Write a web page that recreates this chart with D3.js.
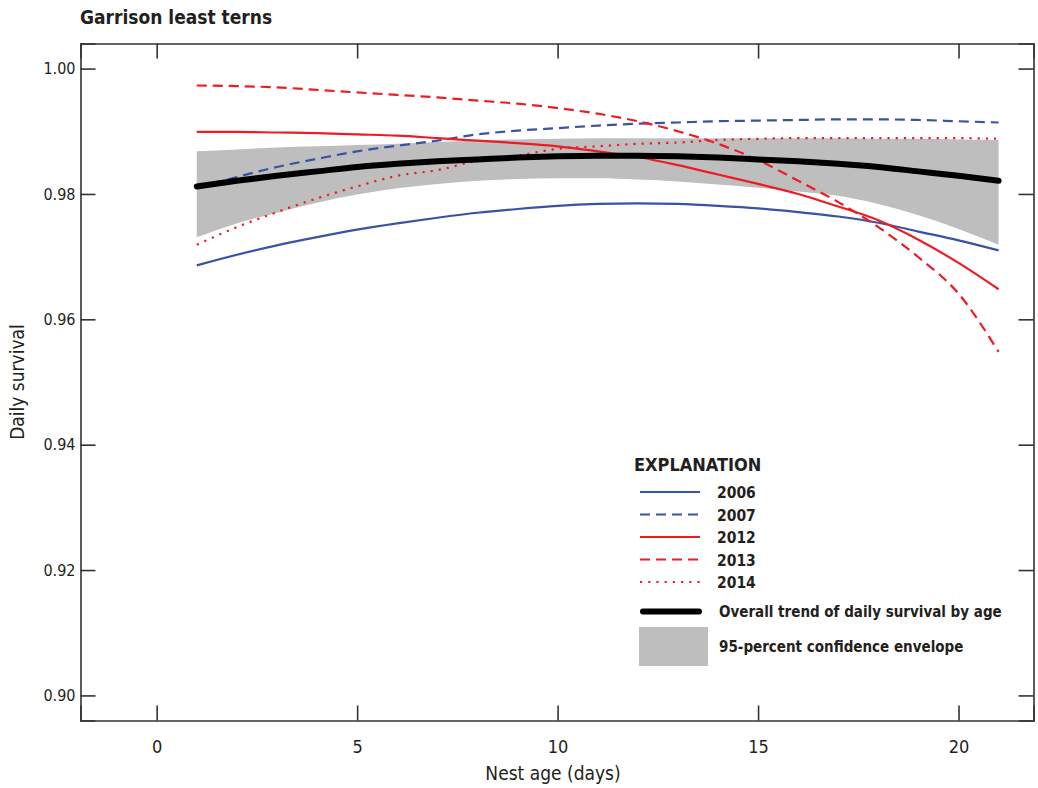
<!DOCTYPE html>
<html>
<head>
<meta charset="utf-8">
<script src="https://cdn.jsdelivr.net/npm/d3@7"></script>
<style>
  body { margin: 0; background: #fff; }
  svg text { font-family: 'Liberation Sans Narrow', 'Arial Narrow', 'DejaVu Sans Condensed', sans-serif; fill: #231f20; }
</style>
</head>
<body>
<svg id="chart" width="1038" height="788"></svg>
<script>
// ---- data ----
const ages = [1,2,3,4,5,6,7,8,9,10,11,12,13,14,15,16,17,18,19,20,21];
const s2006 = [0.9686,0.9703,0.9718,0.9731,0.9743,0.9753,0.9762,0.9770,0.9776,0.9781,0.9784,0.9785,0.9784,0.9781,0.9777,0.9771,0.9764,0.9754,0.9740,0.9726,0.9710];
const s2007 = [0.9809,0.9827,0.9843,0.9856,0.9868,0.9877,0.9885,0.9895,0.9901,0.9905,0.9909,0.9912,0.9914,0.9916,0.9917,0.9918,0.9919,0.9919,0.9918,0.9916,0.9914];
const s2012 = [0.9899,0.9899,0.9898,0.9897,0.9895,0.9893,0.9889,0.9885,0.9881,0.9876,0.9868,0.9859,0.9846,0.9831,0.9816,0.9800,0.9780,0.9758,0.9727,0.9690,0.9648];
const s2013 = [0.9973,0.9972,0.9970,0.9966,0.9962,0.9958,0.9954,0.9949,0.9944,0.9937,0.9928,0.9916,0.9900,0.9880,0.9854,0.9821,0.9787,0.9747,0.9699,0.9641,0.9548];
const s2014 = [0.9719,0.9747,0.9771,0.9793,0.9812,0.9829,0.9838,0.9853,0.9861,0.9872,0.9876,0.9880,0.9882,0.9886,0.9888,0.9889,0.9889,0.9889,0.9889,0.9889,0.9888];
const overall = [0.9812,0.9821,0.9829,0.9836,0.9843,0.9848,0.9852,0.9855,0.9858,0.9860,0.9861,0.9861,0.9860,0.9858,0.9855,0.9852,0.9848,0.9843,0.9836,0.9829,0.9821];
const ciUpper = [0.9868,0.9871,0.9874,0.9876,0.9878,0.9880,0.9883,0.9885,0.9887,0.9888,0.9889,0.9889,0.9889,0.9889,0.9889,0.9889,0.9889,0.9888,0.9888,0.9887,0.9886];
const ciLower = [0.9731,0.9753,0.9770,0.9786,0.9799,0.9809,0.9816,0.9821,0.9824,0.9825,0.9825,0.9823,0.9820,0.9815,0.9810,0.9804,0.9797,0.9784,0.9766,0.9744,0.9719];
const xTicks = [0,5,10,15,20];
const yTicks = [0.90,0.92,0.94,0.96,0.98,1.00];
const seriesNames = ["2006","2007","2012","2013","2014"];
const seriesValues = [s2006, s2007, s2012, s2013, s2014];

// ---- styles ----
const BLUE = "#3953a4", RED = "#ed1c24";
const seriesStyle = {
  "2006": {color: BLUE, dash: null},
  "2007": {color: BLUE, dash: "10,6"},
  "2012": {color: RED, dash: null},
  "2013": {color: RED, dash: "10,6"},
  "2014": {color: RED, dash: "2.2,6"}
};

const svg = d3.select("#chart");
const L = 80.5, R = 1033.5, T = 43.5, B = 720.5;
const x = d3.scaleLinear().domain([-1.9, 21.87]).range([L, R]);
const y = d3.scaleLinear().domain([0.896, 1.004]).range([B, T]);

// title
svg.append("text").attr("x", 80).attr("y", 24)
  .style("font-size", "19px").style("font-weight", "bold")
  .text("Garrison least terns");

// envelope
const area = d3.area().x((d,i) => x(ages[i])).y0((d,i) => y(ciLower[i])).y1((d,i) => y(ciUpper[i])).curve(d3.curveMonotoneX);
svg.append("path").datum(ages).attr("d", area).attr("fill", "#bebebe");

// series lines
const line = d3.line().x((d,i) => x(ages[i])).y(d => y(d)).curve(d3.curveMonotoneX);
seriesNames.forEach((name, k) => {
  const st = seriesStyle[name];
  svg.append("path").datum(seriesValues[k]).attr("d", line)
    .attr("fill", "none").attr("stroke", st.color).attr("stroke-width", 2.2)
    .attr("stroke-dasharray", st.dash);
});
// overall trend
svg.append("path").datum(overall).attr("d", line)
  .attr("fill", "none").attr("stroke", "#000").attr("stroke-width", 6)
  .attr("stroke-linecap", "round");

// axes
const axisColor = "#333";
const gB = svg.append("g").attr("transform", `translate(0,${B})`)
  .call(d3.axisBottom(x).tickValues(xTicks).tickSize(-15).tickPadding(20).tickFormat(d3.format("d")));
const gT = svg.append("g").attr("transform", `translate(0,${T})`)
  .call(d3.axisTop(x).tickValues(xTicks).tickSize(-15).tickFormat(""));
const gL = svg.append("g").attr("transform", `translate(${L},0)`)
  .call(d3.axisLeft(y).tickValues(yTicks).tickSize(-15).tickPadding(5).tickFormat(d3.format(".2f")));
const gR = svg.append("g").attr("transform", `translate(${R},0)`)
  .call(d3.axisRight(y).tickValues(yTicks).tickSize(-15).tickFormat(""));
[gB, gT, gL, gR].forEach(g => {
  g.select(".domain").attr("stroke", axisColor).attr("stroke-width", 1.6);
  g.selectAll(".tick line").attr("stroke", axisColor).attr("stroke-width", 1.6);
  g.selectAll(".tick text").attr("fill", "#231f20")
    .style("font-family", "'Liberation Sans Narrow', 'Arial Narrow', 'DejaVu Sans Condensed', sans-serif");
});
gB.selectAll(".tick text").style("font-size", "18px");
gL.selectAll(".tick text").style("font-size", "16px");

// axis titles
svg.append("text").attr("x", 553).attr("y", 780).attr("text-anchor", "middle")
  .style("font-size", "19px").text("Nest age (days)");
svg.append("text").attr("transform", "translate(24,382) rotate(-90)").attr("text-anchor", "middle")
  .style("font-size", "19px").text("Daily survival");

// legend
const lg = svg.append("g");
lg.append("text").attr("x", 634).attr("y", 471).style("font-size", "18px").style("font-weight", "bold").text("EXPLANATION");
const rowY = [492, 514.5, 537, 559.5, 582];
seriesNames.forEach((name, k) => {
  const st = seriesStyle[name];
  lg.append("line").attr("x1", 640).attr("x2", 700).attr("y1", rowY[k]).attr("y2", rowY[k])
    .attr("stroke", st.color).attr("stroke-width", 2.2).attr("stroke-dasharray", st.dash);
  lg.append("text").attr("x", 717).attr("y", rowY[k] + 6).style("font-size", "15.5px").style("font-weight", "bold").text(name);
});
lg.append("line").attr("x1", 643).attr("x2", 699).attr("y1", 611.5).attr("y2", 611.5)
  .attr("stroke", "#000").attr("stroke-width", 6).attr("stroke-linecap", "round");
lg.append("text").attr("x", 719).attr("y", 617).style("font-size", "15px").style("font-weight", "bold")
  .text("Overall trend of daily survival by age");
lg.append("rect").attr("x", 639).attr("y", 627).attr("width", 69).attr("height", 39).attr("fill", "#bebebe");
lg.append("text").attr("x", 719).attr("y", 652).style("font-size", "15px").style("font-weight", "bold")
  .text("95-percent confidence envelope");
</script>
</body>
</html>
